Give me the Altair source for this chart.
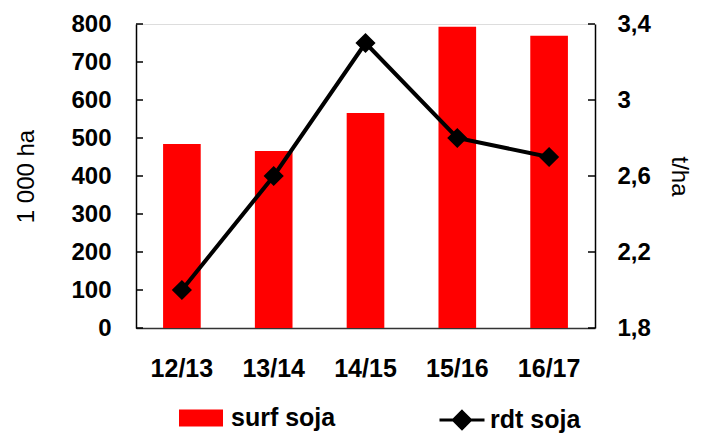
import altair as alt
import pandas as pd

campagnes = ["12/13", "13/14", "14/15", "15/16", "16/17"]
surf_soja = [484, 466, 566, 793, 769]
rdt_soja = [2.0, 2.6, 3.3, 2.8, 2.7]
left_ticks = [0, 100, 200, 300, 400, 500, 600, 700, 800]
right_ticks = [1.8, 2.2, 2.6, 3.0, 3.4]

W, H = 459, 304
FONT = "Liberation Sans"

df = pd.DataFrame({"campagne": campagnes, "surf": surf_soja, "rdt": rdt_soja,
                   "sl": ["surf soja"] * 5, "rl": ["rdt soja"] * 5})

xenc = alt.X("campagne:N", sort=campagnes,
             scale=alt.Scale(paddingInner=0.59, paddingOuter=0.295),
             axis=alt.Axis(title=None, labelAngle=0, ticks=False, labelFontSize=25,
                           labelFontWeight="bold", labelPadding=28, domainColor="#333",
                           domainWidth=1.5, labelColor="black"))

left_axis = alt.Axis(title="1 000 ha", values=left_ticks, tickSize=0, labelPadding=25,
                     labelFontSize=24, labelFontWeight="bold", titleFontSize=24,
                     titleFontWeight="normal", titlePadding=32, domainColor="black",
                     domainWidth=1.5, labelColor="black", titleColor="black", grid=False)
left_scale = alt.Scale(domain=[0, 800], nice=False)

right_axis = alt.Axis(title="t/ha", orient="right", values=right_ticks, tickSize=0,
                      labelPadding=22, labelFontSize=24, labelFontWeight="bold",
                      labelExpr="replace(format(datum.value, '.1~f'), '.', ',')",
                      titleFontSize=24, titleFontWeight="normal", titlePadding=16,
                      domainColor="black", domainWidth=1.5, labelColor="black",
                      titleColor="black", grid=False)
right_scale = alt.Scale(domain=[1.8, 3.4], nice=False)

base = alt.Chart(df).encode(x=xenc)

bars = base.mark_bar().encode(
    y=alt.Y("surf:Q", scale=left_scale, axis=left_axis),
    fill=alt.Fill("sl:N", scale=alt.Scale(range=["#ff0000"]),
                  legend=alt.Legend(title=None, orient="none", legendX=43, legendY=372,
                                    symbolType="M-1,-0.39H1V0.39H-1Z", symbolSize=1936,
                                    symbolStrokeWidth=0, labelFontSize=25,
                                    labelFontWeight="bold", labelFont=FONT,
                                    labelOffset=8, labelColor="black", padding=0)),
)
lt = alt.Chart(pd.DataFrame({"surf": left_ticks})).mark_rule(color="black", strokeWidth=1.5).encode(
    y=alt.Y("surf:Q", scale=left_scale, axis=left_axis),
    x=alt.value(0), x2=alt.value(7))
left = alt.layer(bars, lt)

line = base.mark_line(strokeWidth=4,
                      point=alt.OverlayMarkDef(shape="diamond", size=300, filled=True,
                                               color="black")).encode(
    y=alt.Y("rdt:Q", scale=right_scale, axis=right_axis),
    stroke=alt.Stroke("rl:N", scale=alt.Scale(range=["black"]),
                      legend=alt.Legend(title=None, orient="none", legendX=302, legendY=372,
                                        symbolType="M-1,0H1M0,-0.38L0.38,0L0,0.38L-0.38,0Z",
                                        symbolSize=2025, symbolStrokeWidth=3,
                                        symbolFillColor="black", labelFontSize=25,
                                        labelFontWeight="bold", labelFont=FONT,
                                        labelOffset=4, labelColor="black", padding=0)),
)
rt = alt.Chart(pd.DataFrame({"rdt": right_ticks})).mark_rule(color="black", strokeWidth=1.5).encode(
    y=alt.Y("rdt:Q", scale=right_scale, axis=right_axis),
    x=alt.value(W - 7), x2=alt.value(W))
right = alt.layer(line, rt)

chart = alt.layer(left, right).resolve_scale(y="independent").properties(
    width=W, height=H,
    autosize=alt.AutoSizeParams(type="none"),
    padding={"left": 128, "top": 16, "right": 99, "bottom": 105},
).configure_view(stroke=None).configure(font=FONT).configure_axis(labelFont=FONT, titleFont=FONT)

chart.save("out.html", embed_options={"renderer": "svg", "actions": False})
